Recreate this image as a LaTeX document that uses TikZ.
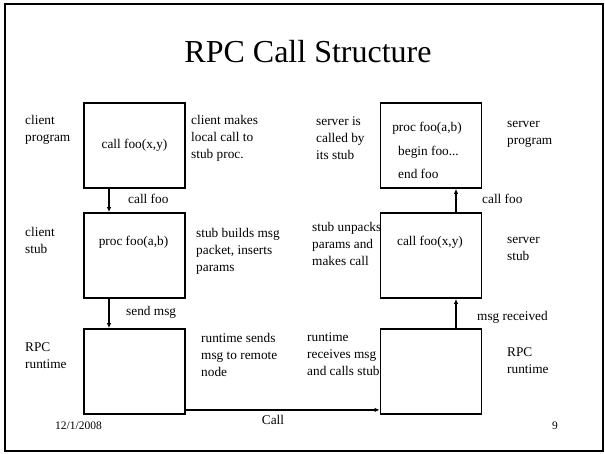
\documentclass[tikz,border=0pt]{standalone}
\usepackage{fontspec}
\setmainfont{Liberation Serif}
\usetikzlibrary{arrows.meta}
\begin{document}
\begin{tikzpicture}[x=1pt,y=-1pt,
  box/.style={draw, line width=1.8pt, minimum width=101pt, minimum height=85pt, inner sep=0pt,
    font=\fontsize{13.3}{17}\selectfont},
  lbl/.style={font=\fontsize{13.3}{17}\selectfont, align=left, inner sep=0pt, anchor=north west,
    execute at begin node=\strut},
  txt/.style={font=\fontsize{13.3}{17}\selectfont, inner sep=0pt},
  foot/.style={font=\fontsize{11.5}{14}\selectfont, inner sep=0pt, anchor=base west},
  arr/.style={line width=1.5pt, -{Latex[length=5pt,width=4.5pt]}}
]
\useasboundingbox (0,0) rectangle (605,454);
\node[draw, line width=2pt, minimum width=598pt, minimum height=447pt, inner sep=0pt] (frame) at (304,227.5) {};

% title
\node[font=\fontsize{32}{38}\selectfont, inner sep=0pt, anchor=base] (title) at (308,63) {RPC Call Structure};

% boxes
\node[box] (b1) at (134.5,145.5) {call foo(x,y)};
\node[box] (b2) at (134.5,255.5) {};
\node[box] (b3) at (134.5,371.5) {};
\node[box] (r1) at (431,145.5) {};
\node[box] (r2) at (431,255.5) {};
\node[box] (r3) at (431,371.5) {};

% box texts
\node[txt, anchor=base] (b2t) at (133.5,246) {proc foo(a,b)};
\node[txt, anchor=base] (r1t1) at (427,132) {proc foo(a,b)};
\node[txt, anchor=base west] (r1t2) at (398,156) {begin foo...};
\node[txt, anchor=base west] (r1t3) at (398,179) {end foo};
\node[txt, anchor=base] (r2t) at (430,246) {call foo(x,y)};

% left labels
\node[lbl] (lcp) at (25,115.1) {client\\program};
\node[lbl] (lcs) at (25,227.1) {client\\stub};
\node[lbl] (lrt) at (25,342.1) {RPC\\runtime};

% left descriptions
\node[lbl] (d1) at (191,115.1) {client makes\\local call to\\stub proc.};
\node[lbl] (d2) at (196,228.1) {stub builds msg\\packet, inserts\\params};
\node[lbl] (d3) at (201,333.1) {runtime sends\\msg to remote\\node};

% right descriptions
\node[lbl] (e1) at (316,116.1) {server is\\called by\\its stub};
\node[lbl] (e2) at (312,222.1) {stub unpacks\\params and\\makes call};
\node[lbl] (e3) at (307,332.1) {runtime\\receives msg\\and calls stub};

% right labels
\node[lbl] (rsp) at (507,121.1) {server\\program};
\node[lbl] (rss) at (507,237.1) {server\\stub};
\node[lbl] (rrt) at (507,347.1) {RPC\\runtime};

% connectors
\draw[arr] ([xshift=-25.5pt]b1.south) -- ([xshift=-25.5pt]b2.north);
\draw[arr] ([xshift=-25.5pt]b2.south) -- ([xshift=-25.5pt]b3.north);
\draw[arr] ([xshift=25pt]r2.north) -- ([xshift=25pt]r1.south);
\draw[arr] ([xshift=25pt]r3.north) -- ([xshift=25pt]r2.south);
\draw[arr] ([yshift=5pt]b3.south east) -- ([yshift=5pt]r3.south west);

% connector labels
\node[txt, anchor=base west] (l1) at (128,204) {call foo};
\node[txt, anchor=base west] (l2) at (126,316) {send msg};
\node[txt, anchor=base west] (l3) at (482,204) {call foo};
\node[txt, anchor=base west] (l4) at (477,320) {msg received};
\node[txt, anchor=base] (l5) at (273,424) {Call};

% footer
\node[foot] (date) at (55,429) {12/1/2008};
\node[foot] (page) at (552,429) {9};
\end{tikzpicture}
\end{document}
